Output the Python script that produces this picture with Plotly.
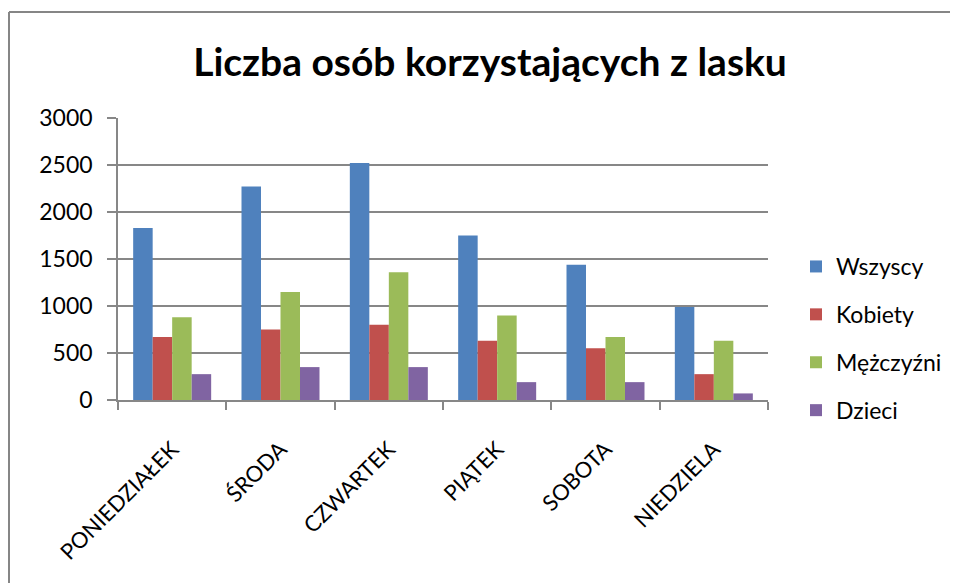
import plotly.graph_objects as go

days = ["PONIEDZIAŁEK", "ŚRODA", "CZWARTEK", "PIĄTEK", "SOBOTA", "NIEDZIELA"]
series_names = ["Wszyscy", "Kobiety", "Mężczyźni", "Dzieci"]
wszyscy = [1830, 2270, 2520, 1750, 1440, 990]
kobiety = [670, 750, 800, 630, 550, 275]
mezczyzni = [880, 1150, 1360, 900, 670, 630]
dzieci = [275, 350, 350, 190, 190, 70]
colors = ["#4F81BD", "#C0504D", "#9BBB59", "#8064A2"]
y_ticks = [0, 500, 1000, 1500, 2000, 2500, 3000]

FONT = "Lato"
OFF = 8  # page offset of the figure in the browser (body margin)
W, H = 958 - OFF, 583 - OFF
# desired plot area in page pixels: x 118..768, y 118..400
PX0, PX1, PY0, PY1 = 118, 768, 118, 400
L = PX0 - OFF
T = PY0 - OFF
R = W - L - (PX1 - PX0)
B = H - T - (PY1 - PY0)

fig = go.Figure()
for name, vals, col in zip(series_names, [wszyscy, kobiety, mezczyzni, dzieci], colors):
    fig.add_trace(go.Bar(
        x=days, y=vals, name=name, legendgroup=name,
        marker=dict(color=col, line=dict(width=0)),
    ))

pw = PX1 - PX0
ph = PY1 - PY0
def px_x(p):
    return (p - PX0) / pw
def px_y(p):
    return (PY1 - p) / ph

border = dict(color="#868686", width=2)

fig.update_layout(
    width=W, height=H,
    margin=dict(l=L, r=R, t=T, b=B, autoexpand=False),
    paper_bgcolor="white", plot_bgcolor="white",
    barmode="group", bargap=0.28, bargroupgap=0,
    font=dict(family=FONT, color="black"),
    title=dict(
        text="<b>Liczba osób korzystających z lasku</b>",
        x=(490 - OFF) / W, xref="container", xanchor="center",
        y=1 - (62 - OFF) / H, yref="container", yanchor="middle",
        font=dict(family=FONT, size=39, color="black"),
    ),
    legend=dict(
        x=px_x(796), xanchor="left",
        y=px_y(245), yanchor="top",
        font=dict(family=FONT, size=23, color="black"),
        tracegroupgap=15,
        traceorder="grouped",
        bgcolor="rgba(0,0,0,0)",
    ),
    xaxis=dict(
        type="category",
        showline=True, linecolor="#878787", linewidth=1.5,
        ticks="outside", tickson="boundaries", ticklen=8, tickcolor="#878787",
        tickwidth=1.5,
        tickangle=-45,
        ticklabelstandoff=26,
        tickfont=dict(family=FONT, size=22, color="black"),
        showgrid=False,
    ),
    yaxis=dict(
        range=[0, 3000], tickvals=y_ticks,
        showline=True, linecolor="#878787", linewidth=1.5,
        ticks="outside", ticklen=9, tickcolor="#878787", tickwidth=1.5,
        ticklabelstandoff=10,
        showgrid=True, gridcolor="#878787", gridwidth=1.5,
        tickfont=dict(family=FONT, size=23, color="black"),
        zeroline=False,
    ),
    shapes=[
        dict(type="line", xref="paper", yref="paper",
             x0=px_x(9), x1=px_x(970), y0=px_y(12), y1=px_y(12),
             line=border, layer="below"),
        dict(type="line", xref="paper", yref="paper",
             x0=px_x(9), x1=px_x(9), y0=px_y(12), y1=px_y(600),
             line=border, layer="below"),
    ],
)

fig.write_html(
    "out.html",
    post_script="document.documentElement.style.overflow='hidden';document.body.style.overflow='hidden';",
)
